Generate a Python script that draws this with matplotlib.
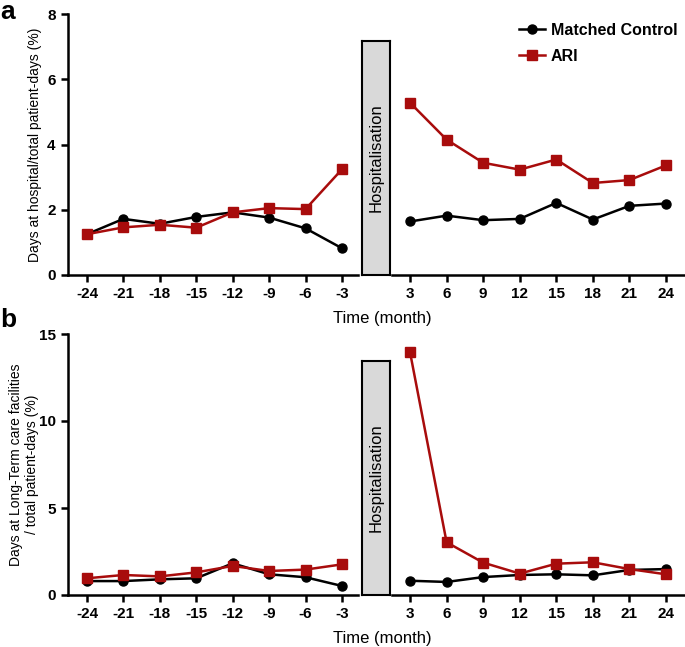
import numpy as np
import matplotlib
matplotlib.use('Agg')
import matplotlib.pyplot as plt

plt.rcParams['font.family'] = ['Liberation Sans', 'DejaVu Sans']
plt.rcParams['axes.unicode_minus'] = False

months_pre = [-24, -21, -18, -15, -12, -9, -6, -3]
months_post = [3, 6, 9, 12, 15, 18, 21, 24]

# panel a: hospital days
hosp_ctrl_pre = [1.25, 1.72, 1.57, 1.78, 1.92, 1.76, 1.43, 0.82]
hosp_ari_pre = [1.25, 1.46, 1.54, 1.45, 1.92, 2.05, 2.02, 3.24]
hosp_ctrl_post = [1.64, 1.82, 1.68, 1.72, 2.21, 1.70, 2.12, 2.19]
hosp_ari_post = [5.28, 4.15, 3.44, 3.23, 3.54, 2.82, 2.91, 3.36]

# panel b: long-term care days
ltc_ctrl_pre = [0.80, 0.80, 0.90, 0.96, 1.82, 1.19, 1.02, 0.52]
ltc_ari_pre = [0.96, 1.15, 1.07, 1.30, 1.67, 1.38, 1.46, 1.76]
ltc_ctrl_post = [0.82, 0.75, 1.03, 1.15, 1.19, 1.13, 1.44, 1.49]
ltc_ari_post = [13.95, 3.03, 1.86, 1.23, 1.80, 1.88, 1.49, 1.19]

RED = '#a80c0c'
W, H = 685, 647

fig = plt.figure(figsize=(W / 100, H / 100), dpi=100)


def px_axes(x0, y0, x1, y1):
    # pixel box (top-left origin) -> figure axes
    return fig.add_axes([x0 / W, 1 - y1 / H, (x1 - x0) / W, (y1 - y0) / H])


def style(ax, left=True):
    for s in ['top', 'right']:
        ax.spines[s].set_visible(False)
    ax.spines['bottom'].set_linewidth(1.8)
    ax.spines['left'].set_linewidth(1.8)
    if not left:
        ax.spines['left'].set_visible(False)
        ax.tick_params(axis='y', left=False, labelleft=False)
    ax.tick_params(width=1.8, length=5, labelsize=11, pad=4)
    for lab in ax.get_xticklabels() + ax.get_yticklabels():
        lab.set_fontweight('bold')


def draw(ax, x, ctrl, ari):
    ax.plot(x, ctrl, color='black', lw=1.8, marker='o', ms=6.5, zorder=3,
            label='Matched Control')
    ax.plot(x, ari, color=RED, lw=1.8, marker='s', ms=6.5, zorder=3,
            label='ARI')


def panel(top, bottom, box_top, ymax, yticks, ylabel, label_x,
          ctrl_pre, ari_pre, ctrl_post, ari_post, letter, letter_y):
    axl = px_axes(68, top, 358, bottom)
    draw(axl, months_pre, ctrl_pre, ari_pre)
    axl.set_xlim(-25.56, -1.68)
    axl.set_ylim(0, ymax)
    axl.set_xticks(months_pre)
    axl.set_yticks(yticks)
    style(axl)
    axl.set_ylabel(ylabel, fontsize=10)
    axl.yaxis.set_label_coords(label_x, 0.5)

    axr = px_axes(392, top, 685, bottom)
    draw(axr, months_post, ctrl_post, ari_post)
    axr.set_xlim(1.52, 25.56)
    axr.set_ylim(0, ymax)
    axr.set_xticks(months_post)
    style(axr, left=False)

    box = px_axes(362, box_top, 390, bottom)
    box.set_facecolor('#d9d9d9')
    box.set_xticks([])
    box.set_yticks([])
    for s in box.spines.values():
        s.set_linewidth(1.5)
    box.text(0.5, 0.5, 'Hospitalisation', rotation=90, ha='center',
             va='center', fontsize=12, transform=box.transAxes)

    fig.text(382 / W, 1 - (bottom + 44) / H, 'Time (month)', ha='center',
             va='center', fontsize=12)
    fig.text(0 / W, 1 - letter_y / H, letter, fontsize=19,
             fontweight='bold', ha='left', va='top')
    return axl, axr


axl, axr = panel(14, 275, 41, 8, [0, 2, 4, 6, 8],
                 'Days at hospital/total patient-days (%)', -0.088,
                 hosp_ctrl_pre, hosp_ari_pre, hosp_ctrl_post, hosp_ari_post,
                 'a', 0)
panel(334, 595, 361, 15, [0, 5, 10, 15],
      'Days at Long-Term care facilities\n/ total patient-days (%)', -0.1,
      ltc_ctrl_pre, ltc_ari_pre, ltc_ctrl_post, ltc_ari_post, 'b', 308)

leg = axr.legend(loc='upper left', bbox_to_anchor=(519 / W, 1 - 23 / H),
                 bbox_transform=fig.transFigure, frameon=False,
                 borderpad=0, borderaxespad=0,
                 handlelength=1.6, handletextpad=0.4, labelspacing=0.68,
                 prop={'weight': 'bold', 'size': 11.5})

fig.savefig('out.png', dpi=100)
